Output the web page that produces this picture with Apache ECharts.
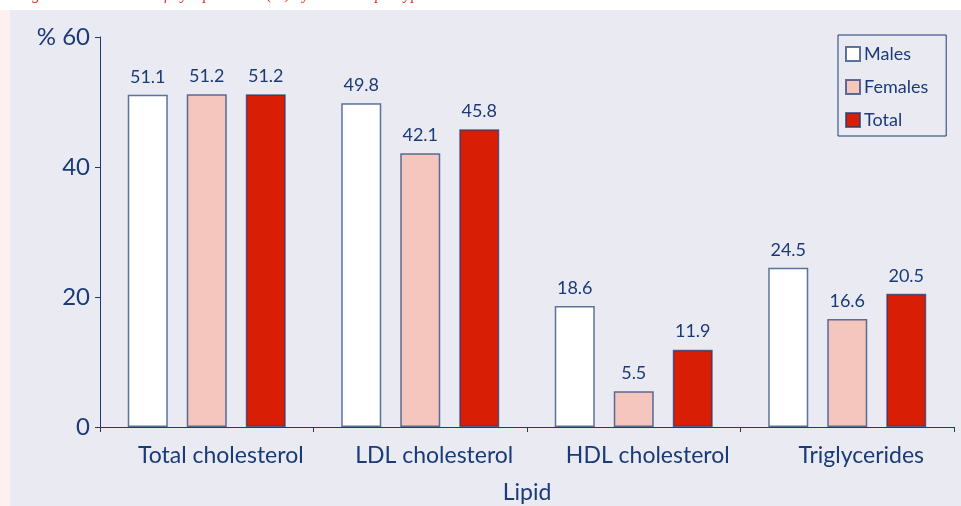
<!DOCTYPE html>
<html><head><meta charset="utf-8">
<script src="https://cdn.jsdelivr.net/npm/echarts@6/dist/echarts.min.js"></script>
<style>html,body{margin:0;padding:0;background:#fff}#c{width:961px;height:506px}</style>
</head><body><div id="c"></div>
<script>
const categories = ['Total cholesterol', 'LDL cholesterol', 'HDL cholesterol', 'Triglycerides'];
const males = [51.1, 49.8, 18.6, 24.5];
const females = [51.2, 42.1, 5.5, 16.6];
const total = [51.2, 45.8, 11.9, 20.5];
const yTicks = [0, 20, 40, 60];

const navy = '#1b3a78';
const font = 'Lato';
const chart = echarts.init(document.getElementById('c'));
function bar(name, data, color) {
  return {
    name, type: 'bar', data,
    barWidth: 40, barGap: '47.5%',
    itemStyle: { color, borderColor: 'rgba(27,58,120,0.7)', borderWidth: 1.5 },
    label: { show: true, position: 'top', distance: 9, color: navy, fontFamily: font, fontSize: 18, formatter: p => p.value.toFixed(1) }
  };
}
chart.setOption({
  animation: false,
  textStyle: { fontFamily: font },
  graphic: [
    { type: 'rect', shape: { x: 0, y: 10, width: 10, height: 496 }, style: { fill: '#fdf0ef' }, z: -10 },
    { type: 'rect', shape: { x: 10, y: 10, width: 951, height: 496 }, style: { fill: '#eaebf2' }, z: -10 },
    { type: 'text', left: 18, top: -13, z: -20, style: { text: 'Figure 3. Prevalence of dyslipidaemia (%) by sex and lipid type', fill: '#e8321e', font: 'italic 16px "Liberation Serif"' } }
  ],
  legend: {
    orient: 'vertical', left: 838, top: 35, icon: 'rect',
    padding: [9, 18, 6, 7], itemGap: 13, itemWidth: 14, itemHeight: 14,
    borderColor: navy, borderWidth: 1,
    textStyle: { color: navy, fontSize: 18, lineHeight: 20, fontFamily: font, padding: [0, 0, 0, -1] },
    data: ['Males', 'Females', 'Total']
  },
  grid: { left: 100, right: 7, top: 37, bottom: 79, containLabel: false, outerBoundsMode: 'none' },
  xAxis: {
    type: 'category', data: categories,
    name: 'Lipid', nameLocation: 'middle', nameGap: 54,
    nameTextStyle: { color: navy, fontSize: 23, fontFamily: font },
    axisLine: { lineStyle: { color: navy, width: 1 } },
    axisTick: { show: true, interval: 0, length: 5, lineStyle: { color: navy } },
    axisLabel: { interval: 0, color: navy, fontSize: 23, fontFamily: font, margin: 17, padding: [0, 0, 0, 28] }
  },
  yAxis: {
    type: 'value', min: yTicks[0], max: yTicks[yTicks.length - 1], interval: 20,
    axisLine: { show: true, lineStyle: { color: navy, width: 1 } },
    axisTick: { show: true, length: 5, lineStyle: { color: navy } },
    splitLine: { show: false },
    axisLabel: { color: navy, fontSize: 24, fontFamily: font, margin: 10, formatter: v => v === 60 ? '% 60' : String(v) }
  },
  series: [
    bar('Males', males, '#ffffff'),
    bar('Females', females, '#f5c6be'),
    bar('Total', total, '#d81e05')
  ]
});
</script></body></html>
